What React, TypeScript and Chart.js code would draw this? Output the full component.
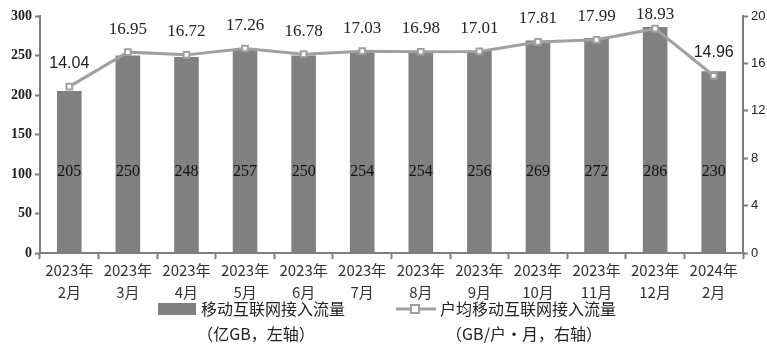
import React, { useEffect, useRef } from "react";
import { Chart, registerables } from "chart.js";
Chart.register(...registerables);

const categories: string[][] = [
  ["2023年", "2月"], ["2023年", "3月"], ["2023年", "4月"], ["2023年", "5月"],
  ["2023年", "6月"], ["2023年", "7月"], ["2023年", "8月"], ["2023年", "9月"],
  ["2023年", "10月"], ["2023年", "11月"], ["2023年", "12月"], ["2024年", "2月"],
];
const trafficValues = [205, 250, 248, 257, 250, 254, 254, 256, 269, 272, 286, 230];
const perUserValues = [14.04, 16.95, 16.72, 17.26, 16.78, 17.03, 16.98, 17.01, 17.81, 17.99, 18.93, 14.96];
const barLegend = ["移动互联网接入流量", "（亿GB，左轴）"];
const lineLegend = ["户均移动互联网接入流量", "（GB/户・月，右轴）"];

const BAR_COLOR = "#808080";
const LINE_COLOR = "#a0a0a0";
const AXIS_COLOR = "#7f7f7f";
const CJK = '"Noto Sans CJK SC", sans-serif';
const SERIF = '"Liberation Serif", serif';
const SANS = '"Liberation Sans", sans-serif';

const labelsPlugin = {
  id: "customLabels",
  afterDatasetsDraw(chart: any) {
    const ctx = chart.ctx;
    const yScale = chart.scales.y;
    ctx.save();
    const barMeta = chart.getDatasetMeta(0);
    ctx.font = "16px " + SERIF;
    ctx.fillStyle = "#111";
    ctx.textAlign = "center";
    ctx.textBaseline = "middle";
    barMeta.data.forEach((el: any, i: number) => {
      const y = yScale.getPixelForValue(103);
      ctx.fillText(String(trafficValues[i]), el.x, y);
    });
    const lineMeta = chart.getDatasetMeta(1);
    ctx.fillStyle = "#222";
    lineMeta.data.forEach((el: any, i: number) => {
      const edge = i === 0 || i === perUserValues.length - 1;
      ctx.font = edge ? "16px " + SANS : "17px " + SERIF;
      ctx.fillText(perUserValues[i].toFixed(2), el.x, Math.max(el.y - 23, 15));
    });
    ctx.restore();
  },
  afterDraw(chart: any) {
    const ctx = chart.ctx;
    ctx.save();
    ctx.font = "16px " + CJK;
    ctx.textBaseline = "middle";
    ctx.fillStyle = BAR_COLOR;
    ctx.fillRect(158, 303, 38, 12);
    ctx.fillStyle = "#222";
    ctx.textAlign = "left";
    ctx.fillText(barLegend[0], 201, 309);
    ctx.textAlign = "center";
    ctx.fillText(barLegend[1], 256, 334);
    ctx.strokeStyle = LINE_COLOR;
    ctx.lineWidth = 3;
    ctx.beginPath();
    ctx.moveTo(396, 309);
    ctx.lineTo(436, 309);
    ctx.stroke();
    ctx.fillStyle = "#fff";
    ctx.lineWidth = 2;
    ctx.fillRect(411, 305, 8, 8);
    ctx.strokeRect(411, 305, 8, 8);
    ctx.fillStyle = "#222";
    ctx.textAlign = "left";
    ctx.fillText(lineLegend[0], 440, 309);
    ctx.textAlign = "center";
    ctx.fillText(lineLegend[1], 524, 334);
    ctx.restore();
  },
};

export default function App() {
  const ref = useRef<HTMLCanvasElement>(null);
  useEffect(() => {
    if (!ref.current) return;
    const chart = new Chart(ref.current, {
      type: "bar",
      data: {
        labels: categories,
        datasets: [
          {
            type: "bar",
            data: trafficValues,
            backgroundColor: BAR_COLOR,
            barPercentage: 0.42,
            categoryPercentage: 1,
            yAxisID: "y",
            order: 2,
          },
          {
            type: "line",
            data: perUserValues,
            borderColor: LINE_COLOR,
            borderWidth: 3,
            pointStyle: "rect",
            pointRadius: 4,
            pointBorderWidth: 2,
            pointBackgroundColor: "#fff",
            pointBorderColor: LINE_COLOR,
            yAxisID: "y1",
            order: 1,
          } as any,
        ],
      },
      options: {
        animation: false,
        responsive: false,
        maintainAspectRatio: false,
        layout: { padding: { top: 16, left: 0, right: 0, bottom: 0 } },
        plugins: { legend: { display: false }, tooltip: { enabled: false } },
        scales: {
          x: {
            grid: {
              drawOnChartArea: false,
              drawTicks: true,
              tickLength: 6,
              tickColor: AXIS_COLOR,
              tickWidth: 2,
              offset: true,
            },
            border: { color: AXIS_COLOR, width: 2 },
            ticks: {
              color: "#333",
              font: { family: CJK, size: 15, lineHeight: 1.47 },
              padding: 0,
              maxRotation: 0,
              autoSkip: false,
            },
            afterFit: (s: any) => { s.height = 94; },
          },
          y: {
            position: "left",
            min: 0,
            max: 300,
            ticks: {
              stepSize: 50,
              color: "#222",
              font: { family: SERIF, size: 14, weight: "bold" },
              padding: 3,
            },
            grid: { drawOnChartArea: false, tickLength: 5, tickColor: AXIS_COLOR, tickWidth: 2 },
            border: { color: AXIS_COLOR, width: 2 },
            afterFit: (s: any) => { s.width = 40; },
          },
          y1: {
            position: "right",
            min: 0,
            max: 20,
            ticks: {
              stepSize: 4,
              color: "#222",
              font: { family: SANS, size: 13 },
              padding: 3,
            },
            grid: { drawOnChartArea: false, tickLength: 5, tickColor: AXIS_COLOR, tickWidth: 2 },
            border: { color: AXIS_COLOR, width: 2 },
            afterFit: (s: any) => { s.width = 24; },
          },
        },
      },
      plugins: [labelsPlugin],
    });
    return () => chart.destroy();
  }, []);
  return (
    <div style={{ position: "fixed", left: 0, top: 0, width: 767, height: 347, background: "#fff" }}>
      <canvas ref={ref} width={767} height={347} style={{ width: 767, height: 347 }} />
    </div>
  );
}
